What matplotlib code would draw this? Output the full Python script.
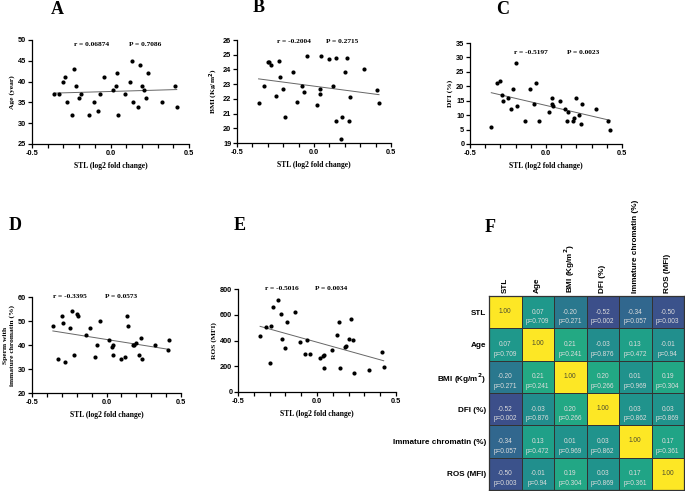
import numpy as np
import matplotlib
matplotlib.use('Agg')
import matplotlib.pyplot as plt

plt.rcParams.update({
    'font.family': 'Liberation Serif',
    'font.weight': 'bold',
    'axes.labelweight': 'bold',
    'axes.linewidth': 0.9,
    'xtick.major.width': 0.9,
    'ytick.major.width': 0.9,
    'xtick.minor.width': 0.9,
    'xtick.major.size': 2.6,
    'xtick.minor.size': 2.6,
    'ytick.major.size': 2.6,
    'xtick.major.pad': 1.5,
    'ytick.major.pad': 1.5,
})

# Sperm telomere length (log2 fold change), one value per subject
stl = [-0.36, -0.325, -0.30, -0.29, -0.28, -0.248, -0.23, -0.22, -0.20, -0.188,
       -0.138, -0.108, -0.079, -0.065, -0.044, 0.018, 0.037, 0.042, 0.046, 0.095,
       0.126, 0.14, 0.143, 0.178, 0.185, 0.20, 0.215, 0.229, 0.237, 0.327,
       0.411, 0.422]

age = [37, 37, 40, 41, 35, 32, 43, 39, 36, 37, 32, 35, 33, 37, 41, 38, 39, 42, 32, 37,
       40, 45, 35, 34, 44, 39, 38, 36, 42, 35, 39, 34]
bmi = [21.7, 22.9, 24.5, 24.5, 24.3, 22.2, 24.6, 23.5, 22.7, 20.75, 23.8, 21.8, 22.85,
       22.5, 24.9, 21.6, 22.3, 22.7, 24.9, 24.7, 22.9, 24.8, 20.5, 19.3, 20.8, 23.85,
       24.8, 20.5, 22.15, 24.05, 22.6, 21.75]
dfi = [6, 21, 22, 17, 15, 16, 12, 19, 28, 13, 8, 19, 14, 21, 8, 11, 16, 14, 13, 15,
       12, 8, 11, 8, 9, 16, 10, 7, 14, 12, 8, 5]
immature = [48, 34, 52, 49, 33, 47, 54, 36, 53, 52, 44, 47, 35, 40, 50, 42, 39, 36, 40, 34,
            35, 52, 48, 40, 40, 41, 36, 43, 34, 40, 38, 42]
ros = [434, 508, 225, 511, 658, 715, 606, 413, 341, 542, 622, 392, 297, 403, 297, 263,
       281, 284, 186, 330, 441, 542, 188, 346, 356, 413, 568, 405, 147, 173, 310, 191]

r_labels = ['r = 0.06874', 'r = -0.2004', 'r = -0.5197', 'r = -0.3395', 'r = -0.5016']
p_labels = ['P = 0.7086', 'P = 0.2715', 'P = 0.0023', 'P = 0.0573', 'P = 0.0034']

# correlation matrix (panel F)
var_names = ['STL', 'Age', 'BMI (Kg/m$^2$)', 'DFI (%)', 'Immature chromatin (%)', 'ROS (MFI)']
corr = [[1.00, 0.07, -0.20, -0.52, -0.34, -0.50],
        [0.07, 1.00, 0.21, -0.03, 0.13, -0.01],
        [-0.20, 0.21, 1.00, 0.20, 0.01, 0.19],
        [-0.52, -0.03, 0.20, 1.00, 0.03, 0.03],
        [-0.34, 0.13, 0.01, 0.03, 1.00, 0.17],
        [-0.50, -0.01, 0.19, 0.03, 0.17, 1.00]]
pvals = [['', '0.709', '0.271', '0.002', '0.057', '0.003'],
         ['0.709', '', '0.241', '0.876', '0.472', '0.94'],
         ['0.271', '0.241', '', '0.266', '0.969', '0.304'],
         ['0.002', '0.876', '0.266', '', '0.862', '0.869'],
         ['0.057', '0.472', '0.969', '0.862', '', '0.361'],
         ['0.003', '0.94', '0.304', '0.869', '0.361', '']]

W, H = 685, 491
fig = plt.figure(figsize=(W / 100, H / 100), dpi=100)


def px_rect(left, top, right, bottom):
    return [left / W, 1 - bottom / H, (right - left) / W, (bottom - top) / H]


def scatter_panel(rect, y, ylim, ystep, ylabel, r_txt, p_txt, r_x, p_x, txt_y):
    ax = fig.add_axes(rect)
    ax.scatter(stl, y, s=9, color='black', linewidths=0, zorder=3, clip_on=False)
    k, b = np.polyfit(stl, y, 1)
    xx = np.array([min(stl), max(stl)])
    ax.plot(xx, k * xx + b, color='0.4', lw=0.7)

    ax.set_xlim(-0.5, 0.5)
    ax.set_ylim(*ylim)
    ax.set_xticks([-0.5, 0.0, 0.5])
    ax.set_xticklabels(['-0.5', '0.0', '0.5'])
    ax.set_xticks(np.arange(-0.4, 0.45, 0.1), minor=True)
    ax.set_yticks(np.arange(ylim[0], ylim[1] + ystep / 2, ystep))
    for side in ['top', 'right']:
        ax.spines[side].set_visible(False)
    for lbl in ax.get_xticklabels() + ax.get_yticklabels():
        lbl.set_fontfamily('Liberation Sans')
        lbl.set_fontweight('bold')
        lbl.set_fontsize(5.3)

    ax.set_xlabel('STL (log2 fold change)', fontsize=5.5, labelpad=4)
    ax.set_ylabel(ylabel, fontsize=5.4, labelpad=2, linespacing=1.3)
    ax.text(r_x, txt_y, r_txt, transform=ax.transAxes, fontsize=5.3, va='center')
    ax.text(p_x, txt_y, p_txt, transform=ax.transAxes, fontsize=5.3, va='center')
    return ax


scatter_panel(px_rect(32, 40, 189, 144), age, (25, 50), 5, 'Age (year)',
              r_labels[0], p_labels[0], 0.27, 0.62, 0.96)
scatter_panel(px_rect(237, 40, 391, 143), bmi, (19, 26), 1, 'BMI (Kg/m$^2$)',
              r_labels[1], p_labels[1], 0.26, 0.58, 0.985)
scatter_panel(px_rect(470, 43, 622, 144), dfi, (0, 35), 5, 'DFI (%)',
              r_labels[2], p_labels[2], 0.29, 0.635, 0.91)
scatter_panel(px_rect(32, 297, 181, 393), immature, (20, 60), 10,
              'Sperm with\nimmature chromatin (%)',
              r_labels[3], p_labels[3], 0.14, 0.49, 1.0)
scatter_panel(px_rect(238, 289, 396, 392), ros, (0, 800), 200, 'ROS (MFI)',
              r_labels[4], p_labels[4], 0.17, 0.49, 1.0)

# panel letters
for letter, (lx, ly) in zip('ABCDEF', [(57, 9), (259, 8), (503, 9), (15, 225), (240, 225), (490, 228)]):
    fig.text(lx / W, 1 - ly / H, letter, fontsize=13, ha='center', va='center')

# heatmap (F)
hx = fig.add_axes(px_rect(489, 296, 684, 490))
hx.pcolormesh(np.array(corr), cmap='viridis', vmin=-1, vmax=1,
              edgecolors='#333333', linewidth=0.7)
hx.set_xlim(0, 6)
hx.set_ylim(6, 0)
hx.xaxis.tick_top()
hx.set_xticks(np.arange(6) + 0.5)
hx.set_yticks(np.arange(6) + 0.5)
hx.set_xticklabels(var_names, rotation=90)
hx.set_yticklabels(var_names)
hx.tick_params(length=0, pad=2)
for lbl in hx.get_xticklabels() + hx.get_yticklabels():
    lbl.set_fontfamily('Liberation Sans')
    lbl.set_fontweight('bold')
    lbl.set_fontsize(5.9)
for sp in hx.spines.values():
    sp.set_color('#333333')
    sp.set_linewidth(0.9)

for i in range(6):
    for j in range(6):
        if i == j:
            hx.text(j + 0.5, i + 0.48, f'{corr[i][j]:.2f}', ha='center', va='center',
                    fontsize=4.7, color='#4a4a30', family='Liberation Sans', weight='normal')
        else:
            hx.text(j + 0.5, i + 0.5, f'{corr[i][j]:.2f}', ha='center', va='center',
                    fontsize=4.7, color='#dddddd', family='Liberation Sans', weight='normal')
            hx.text(j + 0.5, i + 0.8, 'p=' + pvals[i][j], ha='center', va='center',
                    fontsize=4.7, color='#dddddd', family='Liberation Sans', weight='normal')

fig.savefig('out.png', dpi=100)
